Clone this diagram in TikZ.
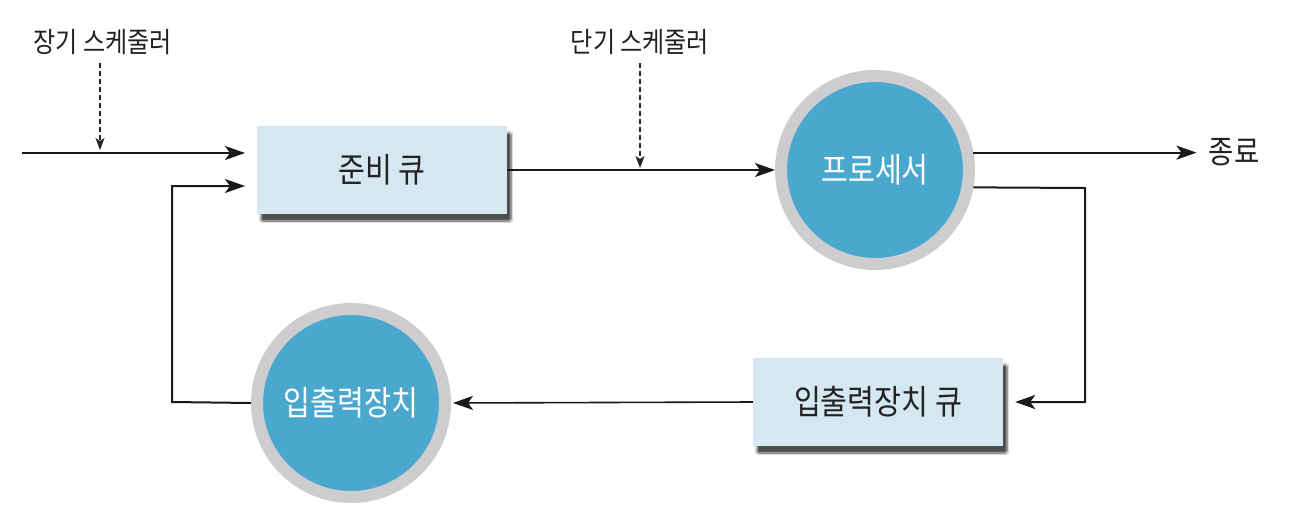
\documentclass[tikz,border=0pt]{standalone}
\usepackage{fontspec}
\newfontfamily\kr[FakeStretch=0.86]{Noto Sans CJK KR}
\usetikzlibrary{arrows.meta,shadows.blur,calc}
\definecolor{boxfill}{RGB}{213,232,241}
\definecolor{circblue}{RGB}{74,168,207}
\definecolor{ringgray}{RGB}{205,205,207}
\definecolor{txt}{RGB}{34,34,34}
\begin{document}
\begin{tikzpicture}[x=1pt,y=-1pt,
  queuebox/.style={rectangle, fill=boxfill, minimum width=250pt, minimum height=88pt,
    inner sep=0pt, text=txt, font=\kr\fontsize{34}{38}\selectfont,
    blur shadow={shadow xshift=4pt, shadow yshift=-7pt, shadow blur steps=8, shadow blur extra rounding=2pt, shadow opacity=70}},
  devcircle/.style={circle, fill=circblue, draw=ringgray, line width=12pt,
    minimum size=188pt, inner sep=0pt, outer sep=6pt, text=white,
    font=\kr\fontsize{34}{38}\selectfont},
  lbl/.style={text=txt, inner sep=0pt, font=\kr\fontsize{28}{31}\selectfont},
  endlbl/.style={text=txt, inner sep=0pt, font=\kr\fontsize{32}{35}\selectfont},
  flow/.style={draw=black!90, line width=2pt, -{Stealth[length=20pt,width=14pt,inset=5pt]}},
  sched/.style={draw=black!85, line width=1.2pt, dash pattern=on 5pt off 3pt,
    -{Stealth[length=12pt,width=9pt,inset=3pt]}}
]
\useasboundingbox (0,0) rectangle (1292,517);
\fill[white] (0,0) rectangle (1292,517);

\node[queuebox] (ready) at (382,170) {준비 큐};
\node[devcircle] (proc) at (875,170) {프로세서};
\node[queuebox] (ioq) at (878,402) {입출력장치 큐};
\node[devcircle] (iodev) at (351,403) {입출력장치};

\node[lbl] (lts) at (103,42) {장기 스케줄러};
\node[lbl] (sts) at (640,42) {단기 스케줄러};
\node[endlbl] (exit) at (1234,152) {종료};

\coordinate (in) at (22,153);
\coordinate (inend) at (245,153);
\coordinate (fbend) at (245,186);
\coordinate (fbcorner) at (172,402);
\coordinate (ltsend) at (100,150);
\coordinate (stsend) at (640,168);
\coordinate (rqcorner) at (1085,188);

% arrivals
\draw[flow] (in) -- (inend);
\draw[sched] (lts.south -| ltsend) ++(0,8) -- (ltsend);
% ready queue -> processor
\draw[flow, line width=1.6pt] (ready.east) -- (proc.west);
\draw[sched] (sts.south -| stsend) ++(0,8) -- (stsend);
% processor -> exit
\draw[flow, shorten >=12pt] (proc.10) -- (exit.west |- proc.10);
% processor -> I/O queue
\draw[flow, shorten >=12pt] (proc.-10) -- (rqcorner) |- (ioq.east);
% I/O queue -> I/O device
\draw[flow, line width=1.6pt, shorten >=2pt] (ioq.west) -- (iodev.east);
% I/O device -> ready queue
\draw[flow] (iodev.west) -- (fbcorner) |- (fbend);
\end{tikzpicture}
\end{document}
